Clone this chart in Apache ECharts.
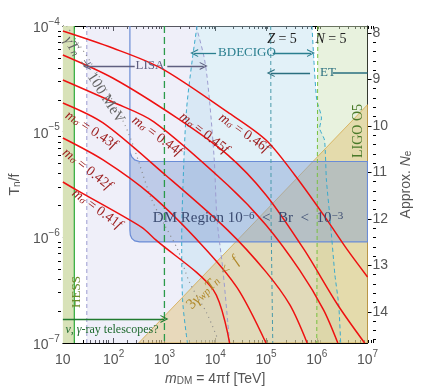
<!DOCTYPE html>
<html>
<head>
<meta charset="utf-8">
<script src="https://cdn.jsdelivr.net/npm/echarts@6/dist/echarts.min.js"></script>
<style>
html,body{margin:0;padding:0;background:#fff;}
#main{width:421px;height:392px;}
</style>
</head>
<body>
<div id="main"></div>
<script>
// m_sigma curves, [m_DM (TeV), T_n/f]
var curve041 = [[10,3.34e-6],[18.4,2.81e-6],[352,1.25e-6],[676,9.45e-7],[9170,3.18e-7],[1.92e4,1e-7]];
var curve042 = [[10,8.71e-6],[61.9,5.4e-6],[545,2.52e-6],[5440,8.48e-7],[2.72e4,3.32e-7],[1e5,1e-7]];
var curve043 = [[10,1.87e-5],[61.9,1.21e-5],[1045,3.89e-6],[1.76e4,1.17e-6],[1e5,4.71e-7],[2.96e5,2.29e-7],[6.47e5,1e-7]];
var curve044 = [[10,3.08e-5],[95.7,1.91e-5],[620,1.24e-5],[1.76e4,3.13e-6],[1e5,1.31e-6],[4.57e5,4.92e-7],[1.36e6,2.06e-7],[2.6e6,1e-7]];
var curve045 = [[10,5.32e-5],[95.7,3.22e-5],[1760,1.35e-5],[1.76e4,6.03e-6],[1e5,2.52e-6],[5.69e5,7.6e-7],[2.6e6,2.29e-7],[8.77e6,1e-7]];
var curve046 = [[10,8.97e-5],[95.7,6.19e-5],[841,4.01e-5],[1.76e4,1.53e-5],[1e5,8.34e-6],[3.68e5,3.89e-6],[1.36e6,1.63e-6],[4.02e6,7.6e-7],[1e7,4.22e-7]];

// gamma T_n = 100 MeV
var mevLine = [[11.9,1e-4],[43.8,3.83e-5],[184,1.04e-5],[545,2.36e-6],[957,1.37e-6],[1840,7.6e-7],[3100,3.78e-7],[6760,1.93e-7],[1.14e4,1.07e-7]];

// detector reach
var hessRegion = [[10,1e-4],[16.8,1e-4],[16.8,1e-7],[10,1e-7]];
var lisaRight = [[4200,1e-4],[6190,4.77e-5],[7700,2.0e-5],[9580,5.4e-6],[1.09e4,1.46e-6],[1.42e4,4.92e-7],[1.92e4,1e-7]];
var lisaLeft = [[29.6,1e-7],[29.6,1e-4]];
var decigoLeft = [[4390,1e-4],[3530,4.77e-5],[2720,1.6e-5],[2380,4.35e-6],[2190,9.45e-7],[2280,2.56e-7],[2840,1e-7]];
var nFiveLine = [[8.05e5,1e-4],[8.77e5,4.77e-5],[1.0e6,2.0e-5],[1.24e6,1.35e-5],[1.14e6,1.08e-5],[1.42e6,8.34e-6],[1.55e6,3.49e-6],[1.84e6,1.46e-6],[2.28e6,4.41e-7],[2.71e6,2.29e-7],[2.96e6,1e-7]];
var zFiveLine = [[1.24e5,1e-4],[1.26e5,1.5e-6],[1.36e5,1e-7]];
var ligoLine = [[1.05e6,1e-4],[1.0e6,1e-7]];
var ligoRegion = [[1.05e6,1e-4],[1e7,1e-4],[1e7,1e-7],[1.0e6,1e-7]];
var teraLine = [[1000,1e-4],[1000,1e-7]];

// DM region 1e-6 < Br < 1e-3
var dmBox = [[209,7.01e-6],[213,6.29e-6],[228,5.77e-6],[260,5.4e-6],[323,5.22e-6],[1e7,5.22e-6],[1e7,9.05e-7],[323,9.05e-7],[260,9.25e-7],[228,9.77e-7],[213,1.05e-6],[209,1.17e-6]];
var dmEdge = [[209,1e-4],[209,7.01e-6]];

// 3 gamma_wp T_n < f
var wpRegion = [[310,1e-7],[1e7,1.8e-5],[1e7,1e-7]];

// arrows: [from, to, y]
var lisaArrows = [[260,29.6],[1140,5940]];
var lisaY = 4.19e-5;
var decigoArrows = [[1.04e4,3850],[1.36e5,7.7e5]];
var decigoY = 5.55e-5;
var etArrows = [[7.38e5,1.24e5]];
var etTail = [2.09e6,1e7];
var etY = 3.59e-5;
var telescopeArrow = [10,1000];
var telescopeY = 1.69e-7;

var neTicks = [8,9,10,11,12,13,14];

var minorX = [], minorY = [], minorNe = [];
for (var k = 1; k < 7; k++) {
    for (var j = 2; j < 10; j++) minorX.push(j * Math.pow(10, k));
}
for (var k = -7; k < -4; k++) {
    for (var j = 2; j < 10; j++) minorY.push(j * Math.pow(10, k));
}
for (var v = 80; v <= 146; v += 2) {
    if (v % 10 !== 0) minorNe.push(v / 10);
}

var myChart = echarts.init(document.getElementById('main'));

var serif = '"Liberation Serif", "DejaVu Serif", serif';
var sans = '"Liberation Sans", Arial, sans-serif';
var arrowSym = 'path://M0,10 L5,0 L10,10 L8.6,10 L5,3 L1.4,10 Z';

function powLabel(val) {
    var e = Math.round(Math.log(val) / Math.LN10);
    if (e === 1) return '{b|10}';
    return '{b|10}{s|' + String(e).replace('-', '\u2212') + '}';
}
var powRich = {
    b: {fontSize: 14, lineHeight: 18, verticalAlign: 'bottom', color: '#555', fontFamily: sans},
    s: {fontSize: 10, lineHeight: 10, verticalAlign: 'top', color: '#555', fontFamily: sans}
};

function polySeries(points, style) {
    return {
        type: 'custom',
        coordinateSystem: 'cartesian2d',
        silent: true,
        clip: true,
        data: points,
        renderItem: function (params, api) {
            if (params.dataIndex !== 0) return;
            var pts = points.map(function (p) { return api.coord(p); });
            return {type: 'polygon', shape: {points: pts}, style: style};
        }
    };
}

function lineSeries(data, color, width, type, smooth) {
    return {
        type: 'line',
        data: data,
        showSymbol: false,
        silent: true,
        smooth: smooth || false,
        lineStyle: {color: color, width: width, type: type || 'solid'},
        z: 3
    };
}

function arrowSeries(pairs, y, color) {
    var lines = pairs.map(function (p) {
        return [{coord: [p[0], y]}, {coord: [p[1], y]}];
    });
    return {
        type: 'line',
        data: [],
        silent: true,
        markLine: {
            silent: true,
            symbol: ['none', arrowSym],
            symbolSize: [8, 8],
            label: {show: false},
            lineStyle: {color: color, width: 1.3, type: 'solid'},
            data: lines
        },
        z: 5
    };
}

var redCurves = [curve041, curve042, curve043, curve044, curve045, curve046];

var series = [
    polySeries(hessRegion, {fill: '#d8e2b8'}),
    polySeries(lisaLeft.concat(lisaRight), {fill: 'rgba(215,215,240,0.4)'}),
    polySeries(decigoLeft.concat(nFiveLine.slice().reverse()), {fill: 'rgba(190,225,240,0.45)'}),
    polySeries(ligoRegion, {fill: 'rgba(210,230,190,0.5)'}),
    polySeries(wpRegion, {fill: 'rgba(225,190,110,0.45)', stroke: '#d4a84a', lineWidth: 0.8}),
    polySeries(dmBox, {fill: 'rgba(130,160,210,0.45)', stroke: '#6a8cd6', lineWidth: 1.2}),
    lineSeries(dmEdge, '#6a8cd6', 1.2),
    lineSeries(lisaLeft, '#9c9cd0', 1, [4, 3]),
    lineSeries(lisaRight, '#9c9cd0', 1, [4, 3], 0.3),
    lineSeries(decigoLeft, '#3aaacc', 1, [4, 3], 0.3),
    lineSeries(nFiveLine, '#3aaacc', 1, [4, 3], 0.2),
    lineSeries(zFiveLine, '#4a9aaa', 1, [4, 3]),
    lineSeries(ligoLine, '#77c040', 1, [4, 3]),
    lineSeries(teraLine, '#2a9a4a', 1.3, [7, 4]),
    lineSeries(mevLine, '#888', 1.2, [1, 4], 0.3),
    lineSeries([[16.8,1e-4],[16.8,1e-7]], '#2eaa3a', 1.2),
    arrowSeries([telescopeArrow], telescopeY, '#1f7a2f'),
    arrowSeries(lisaArrows, lisaY, '#5f5f80'),
    arrowSeries(decigoArrows, decigoY, '#2a7f8f'),
    arrowSeries(etArrows, etY, '#2a6f7f'),
    lineSeries([[etTail[0], etY], [etTail[1], etY]], '#2a6f7f', 1.3)
];
redCurves.forEach(function (c) {
    var s = lineSeries(c, '#ee1111', 1.5, 'solid', 0.3);
    s.z = 4;
    series.push(s);
});

function txt(x, y, text, color, size, rot, rich) {
    return {
        type: 'text',
        x: x, y: y,
        rotation: rot || 0,
        silent: true,
        z: 10,
        style: {
            text: text,
            fill: color,
            font: (size || 13) + 'px ' + serif,
            align: 'center',
            verticalAlign: 'middle',
            rich: rich || {}
        }
    };
}
function mRich(color, size) {
    size = size || 13;
    var small = Math.round(size * 0.7);
    return {
        i: {fontStyle: 'italic', fontSize: size, fontFamily: serif, fill: color},
        sub: {fontStyle: 'italic', fontSize: small, fontFamily: serif, fill: color, verticalAlign: 'bottom', lineHeight: small - 1},
        sup: {fontSize: small, fontFamily: serif, fill: color, verticalAlign: 'top', lineHeight: small - 1}
    };
}
var redText = '#9b1c1c';
var deg = Math.PI / 180;

function mLabel(c, x, y, rot) {
    return txt(x, y, '{i|m}{sub|\u03c3} = ' + c + '{i|f}', redText, 14, rot * deg, mRich(redText, 14));
}

var graphics = [
    txt(150, 66, 'LISA', '#5f5f80', 13),
    txt(247, 53, 'BDECIGO', '#2a7f8f', 13),
    txt(282, 39, '{i|Z} = 5', '#222', 14, 0, mRich('#222', 14)),
    txt(331, 39, '{i|N} = 5', '#222', 14, 0, mRich('#222', 14)),
    txt(328, 73, 'ET', '#2a6f7f', 13),
    txt(358, 131, 'LIGO O5', '#4a7a2a', 14, 90 * deg),
    txt(77, 292, 'HESS', '#6a8a2a', 13, 90 * deg),
    txt(112, 330, '{i|\u03bd}, {i|\u03b3}-ray telescopes?', '#1f6a2f', 12, 0, mRich('#1f6a2f', 12)),
    txt(248, 218, 'DM Region 10{sup|\u22126}  <  Br  <  10{sup|\u22123}', '#3a4a70', 15, 0, mRich('#3a4a70', 15)),
    txt(213, 283, '3{i|\u03b3}{sub|wp}{i|T}{sub|n}  <  {i|f}', '#b08828', 15, 45 * deg, mRich('#b08828', 15)),
    txt(94, 80, '{i|\u03b3T}{sub|n}  =  100 MeV', '#666', 15, -57 * deg, mRich('#666', 15)),
    mLabel('0.41', 97, 209, -36),
    mLabel('0.42', 87, 169, -38),
    mLabel('0.43', 91, 130, -33),
    mLabel('0.44', 157, 136, -36),
    mLabel('0.45', 204, 133, -38),
    mLabel('0.46', 244, 133, -35)
];

var option = {
    backgroundColor: '#fff',
    animation: false,
    grid: [
        {left: 58, right: 45, top: 26, bottom: 49},
        {left: 58, right: 45, top: 26, bottom: 49}
    ],
    xAxis: [
        {
            type: 'log', logBase: 10, min: 10, max: 1e7, interval: 1, gridIndex: 0, position: 'bottom',
            name: '{i|m}{s|DM} = 4\u03c0f [TeV]',
            nameLocation: 'middle', nameGap: 21,
            nameTextStyle: {
                color: '#555', fontSize: 14, fontFamily: sans,
                rich: {
                    i: {fontStyle: 'italic', fontSize: 14, color: '#555', fontFamily: sans},
                    s: {fontSize: 10, color: '#555', verticalAlign: 'bottom', lineHeight: 8, fontFamily: sans}
                }
            },
            axisLine: {lineStyle: {color: '#000', width: 1}},
            axisTick: {inside: true, length: 5, lineStyle: {color: '#000'}},
            axisLabel: {formatter: powLabel, rich: powRich, margin: 6},
            splitLine: {show: false}
        },
        {
            type: 'log', logBase: 10, min: 10, max: 1e7, interval: 1, gridIndex: 0, position: 'top',
            axisLine: {lineStyle: {color: '#000', width: 1}},
            axisTick: {inside: true, length: 5, lineStyle: {color: '#000'}},
            axisLabel: {show: false},
            splitLine: {show: false}
        },
        {
            type: 'log', logBase: 10, min: 10, max: 1e7, gridIndex: 1, position: 'bottom',
            axisLine: {show: false},
            axisTick: {inside: true, length: 3, customValues: minorX, lineStyle: {color: '#000'}},
            axisLabel: {show: false},
            splitLine: {show: false}
        },
        {
            type: 'log', logBase: 10, min: 10, max: 1e7, gridIndex: 1, position: 'top',
            axisLine: {show: false},
            axisTick: {inside: true, length: 3, customValues: minorX, lineStyle: {color: '#000'}},
            axisLabel: {show: false},
            splitLine: {show: false}
        }
    ],
    yAxis: [
        {
            type: 'log', logBase: 10, min: 1e-7, max: 1e-4, interval: 1, gridIndex: 0, position: 'left',
            name: '{i|T}{s|n}/f',
            nameLocation: 'middle', nameGap: 34, nameRotate: 90,
            nameTextStyle: {
                color: '#555', fontSize: 14, fontFamily: sans,
                rich: {
                    i: {fontSize: 14, color: '#555', fontFamily: sans},
                    s: {fontSize: 10, color: '#555', verticalAlign: 'bottom', lineHeight: 8, fontFamily: sans}
                }
            },
            axisLine: {lineStyle: {color: '#000', width: 1}},
            axisTick: {inside: true, length: 5, lineStyle: {color: '#000'}},
            axisLabel: {formatter: powLabel, rich: powRich, margin: 3},
            splitLine: {show: false}
        },
        {
            type: 'value', inverse: true, min: 7.85, max: 14.67, gridIndex: 0, position: 'right',
            name: 'Approx. {i|N}{s|e}',
            nameLocation: 'middle', nameGap: 26, nameRotate: 90,
            nameTextStyle: {
                color: '#555', fontSize: 14, fontFamily: sans,
                rich: {
                    i: {fontStyle: 'italic', fontSize: 14, color: '#555', fontFamily: sans},
                    s: {fontSize: 10, color: '#555', verticalAlign: 'bottom', lineHeight: 8, fontFamily: sans}
                }
            },
            axisLine: {lineStyle: {color: '#000', width: 1}},
            axisTick: {inside: false, length: 4, customValues: neTicks, lineStyle: {color: '#000'}},
            axisLabel: {customValues: neTicks, color: '#555', fontSize: 14, fontFamily: sans, margin: 5},
            splitLine: {show: false}
        },
        {
            type: 'log', logBase: 10, min: 1e-7, max: 1e-4, gridIndex: 1, position: 'left',
            axisLine: {show: false},
            axisTick: {inside: true, length: 3, customValues: minorY, lineStyle: {color: '#000'}},
            axisLabel: {show: false},
            splitLine: {show: false}
        },
        {
            type: 'value', inverse: true, min: 7.85, max: 14.67, gridIndex: 1, position: 'right',
            axisLine: {show: false},
            axisTick: {inside: true, length: 3, customValues: minorNe, lineStyle: {color: '#000'}},
            axisLabel: {show: false},
            splitLine: {show: false}
        }
    ],
    series: series,
    graphic: graphics
};

myChart.setOption(option);
</script>
</body>
</html>
